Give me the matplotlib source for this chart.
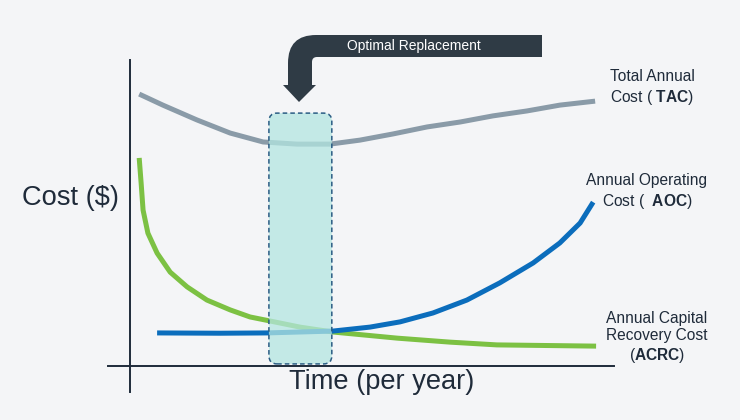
import matplotlib
matplotlib.use("Agg")
import matplotlib.pyplot as plt
from matplotlib.patches import FancyBboxPatch, PathPatch
from matplotlib.path import Path

plt.rcParams['font.family'] = ['Liberation Sans', 'DejaVu Sans']
plt.rcParams['mathtext.fontset'] = 'custom'
plt.rcParams['mathtext.rm'] = 'Liberation Sans'
plt.rcParams['mathtext.bf'] = 'Liberation Sans:bold'

# ---------------- data (years, cost units) ----------------
tac_x = [0.19, 0.68, 1.38, 2.07, 2.75, 3.45, 4.13, 4.75, 5.43, 6.14, 6.82, 7.50, 8.20, 8.88, 9.61]
tac_y = [88.9, 85.3, 80.5, 76.2, 73.3, 72.6, 72.6, 73.9, 75.9, 78.2, 79.8, 81.8, 83.4, 85.3, 86.6]

acrc_x = [0.19, 0.23, 0.27, 0.37, 0.56, 0.83, 1.18, 1.59, 2.07, 2.48, 2.89, 3.51, 4.19, 5.52, 6.61, 7.58, 9.63]
acrc_y = [68.1, 59.9, 51.1, 43.6, 37.1, 30.9, 26.1, 21.8, 18.6, 16.3, 15.0, 13.0, 11.4, 9.4, 8.1, 7.2, 6.8]

aoc_x = [0.56, 1.86, 2.83, 4.19, 4.96, 5.58, 6.26, 6.96, 7.64, 8.33, 8.88, 9.30, 9.57]
aoc_y = [11.1, 11.0, 11.1, 11.7, 13.0, 14.7, 17.6, 21.8, 27.4, 33.9, 40.4, 46.9, 53.7]

opt_start, opt_end = 2.87, 4.17     # optimal replacement window (years)
opt_top = 82.7

x_label = "Time (per year)"
y_label = "Cost ($)"
arrow_label = "Optimal Replacement"
tac_label = "Total Annual\nCost ( $\\mathbf{TAC}$)"
aoc_label = "Annual Operating\nCost (  $\\mathbf{AOC}$)"
acrc_label = "Annual Capital\nRecovery Cost\n($\\mathbf{ACRC}$)"

# ---------------- style ----------------
bg = '#f4f5f7'
txt = '#1f2b3a'
W, H = 740, 420

fig = plt.figure(figsize=(7.4, 4.2), dpi=100, facecolor=bg)
# main axes: x 130..614 px, y 60..367 px
ax = fig.add_axes([130 / W, (H - 367) / H, (614 - 130) / W, (367 - 60) / H])
ax.set_facecolor('none')
ax.set_xlim(0, 10)
ax.set_ylim(0, 100)
for s in ax.spines.values():
    s.set_visible(False)
ax.set_xticks([])
ax.set_yticks([])

line_kw = dict(lw=3.6, solid_capstyle='butt', solid_joinstyle='round', zorder=2)
ax.plot(tac_x, tac_y, color='#8a9ba8', **line_kw)
ax.plot(acrc_x, acrc_y, color='#7cc143', **line_kw)
ax.plot(aoc_x, aoc_y, color='#0b6dbc', **line_kw)

# axis lines (extend beyond each other)
ax.axvline(0, ymin=-25 / 307, ymax=1.0, color=txt, lw=1.4, clip_on=False, zorder=1)
ax.axhline(0.3, xmin=-22 / 484, xmax=1.0, color=txt, lw=1.4, clip_on=False, zorder=1)

# optimal window box
aspect = 48.4 / 3.07
box = FancyBboxPatch((opt_start, 1.0), opt_end - opt_start, opt_top - 1.0,
                     boxstyle="round,pad=0,rounding_size=0.17", mutation_aspect=aspect,
                     facecolor='#b3e6e1', alpha=0.75, edgecolor='none', zorder=3)
ax.add_patch(box)
box2 = FancyBboxPatch((opt_start, 1.0), opt_end - opt_start, opt_top - 1.0,
                      boxstyle="round,pad=0,rounding_size=0.17", mutation_aspect=aspect,
                      facecolor='none', edgecolor='#2b5d84', lw=1.1, ls=(0, (3, 2)), zorder=4)
ax.add_patch(box2)

# overlay in pixel coordinates for decorations
ov = fig.add_axes([0, 0, 1, 1])
ov.set_xlim(0, W)
ov.set_ylim(H, 0)
ov.axis('off')
ov.set_facecolor('none')

verts = [(542, 35), (316, 35), (288, 35), (288, 63), (288, 85), (283, 85), (299, 102),
         (316, 85), (312, 85), (312, 62), (312, 57), (317, 57), (542, 57), (542, 35)]
codes = [Path.MOVETO, Path.LINETO, Path.CURVE3, Path.CURVE3, Path.LINETO, Path.LINETO,
         Path.LINETO, Path.LINETO, Path.LINETO, Path.LINETO, Path.CURVE3, Path.CURVE3,
         Path.LINETO, Path.CLOSEPOLY]
ov.add_patch(PathPatch(Path(verts, codes), facecolor='#2f3b45', edgecolor='none', zorder=5))
ov.text(414, 46, arrow_label, color='white', fontsize=10, ha='center', va='center', zorder=6)

ov.text(70, 198, y_label, color=txt, fontsize=19.6, ha='center', va='center')
ov.text(382, 382, x_label, color=txt, fontsize=19.6, ha='center', va='center')

ov.text(652, 88, tac_label, color=txt, fontsize=11.2, ha='center', va='center', linespacing=1.22)
ov.text(647, 192, aoc_label, color=txt, fontsize=11.2, ha='center', va='center', linespacing=1.22)
ov.text(657, 338, acrc_label, color=txt, fontsize=11.2, ha='center', va='center', linespacing=1.22)

fig.savefig('out.png', dpi=100, facecolor=bg)
